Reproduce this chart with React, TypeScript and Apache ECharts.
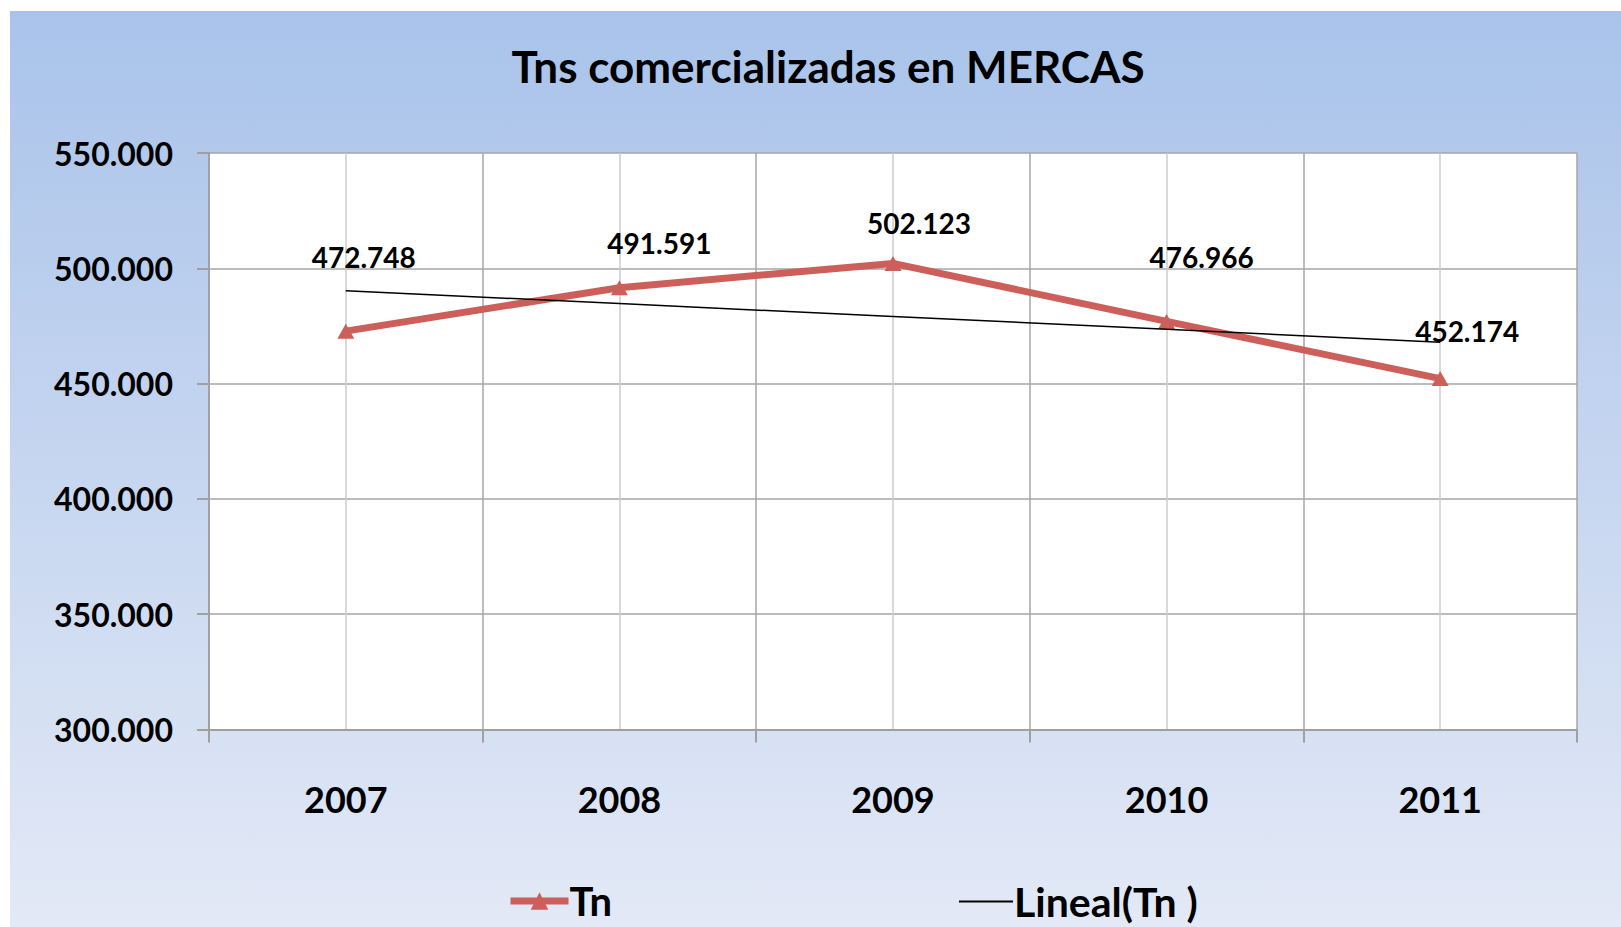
import React, { useEffect, useRef } from "react";
import * as echarts from "echarts";

const titleText = "Tns comercializadas en MERCAS";
const years = ["2007", "2008", "2009", "2010", "2011"];
const tnValues = [472748, 491591, 502123, 476966, 452174];
const trendValues = [490275, 484698, 479120, 473543, 467966];
const labelOffsets = [
  [18, -74],
  [40, -45],
  [26, -40],
  [35, -64],
  [27, -48],
];
const yMin = 300000;
const yMax = 550000;
const yStep = 50000;

const FONT = "Lato, 'Open Sans', sans-serif";

const fmt = (v: number) => {
  const s = Math.round(v).toString();
  return s.replace(/\B(?=(\d{3})+(?!\d))/g, ".");
};

export default function App() {
  const ref = useRef<HTMLDivElement>(null);
  useEffect(() => {
    if (!ref.current) return;
    const chart = echarts.init(ref.current, undefined, { renderer: "svg" });
    chart.setOption({
      animation: false,
      backgroundColor: "#ffffff",
      graphic: [
        {
          type: "rect",
          z: -10,
          silent: true,
          shape: { x: 10, y: 11, width: 1611, height: 916 },
          style: {
            fill: new echarts.graphic.LinearGradient(0, 0, 0, 1, [
              { offset: 0, color: "#a9c3ea" },
              { offset: 1, color: "#e3e9f6" },
            ]),
          },
        },
        {
          type: "text",
          x: 828,
          y: 66,
          style: {
            text: titleText,
            font: `bold 44px ${FONT}`,
            fill: "#000",
            textAlign: "center",
            textVerticalAlign: "middle",
          },
        },
      ],
      grid: {
        left: 209,
        top: 153,
        right: 44,
        bottom: 197.5,
        show: true,
        backgroundColor: "#ffffff",
        borderWidth: 0,
      },
      legend: [
        {
          data: ["Tn"],
          left: 507,
          top: 881,
          padding: 0,
          itemWidth: 58,
          itemHeight: 22,
          itemGap: 4,
          lineStyle: { width: 7 },
          textStyle: { fontFamily: FONT, fontWeight: "bold", fontSize: 40, color: "#000", padding: [0, 0, 0, -4] },
        },
        {
          data: [{ name: "Lineal(Tn )", icon: "rect" }],
          left: 959,
          top: 881,
          padding: 0,
          itemWidth: 54,
          itemHeight: 2,
          itemGap: 4,
          itemStyle: { color: "#000" },
          textStyle: { fontFamily: FONT, fontWeight: "bold", fontSize: 41, color: "#000", padding: [0, 0, 0, -4] },
        },
      ],
      xAxis: [
        {
          type: "category",
          data: years,
          boundaryGap: true,
          axisLine: { show: true, lineStyle: { color: "#a0a0a0", width: 2 } },
          axisTick: { show: true, alignWithLabel: false, length: 13, lineStyle: { color: "#a0a0a0", width: 2 } },
          splitLine: { show: true, lineStyle: { color: "#a6a6a6", width: 1.5 } },
          axisLabel: {
            margin: 51,
            fontFamily: FONT,
            fontWeight: "bold",
            fontSize: 36,
            color: "#000",
          },
        },
        {
          type: "value",
          min: 0,
          max: 5,
          interval: 1,
          position: "bottom",
          axisLine: { show: false },
          axisTick: { show: false },
          axisLabel: { show: false },
          splitLine: { show: false },
          minorTick: { show: false, splitNumber: 2 },
          minorSplitLine: { show: true, lineStyle: { color: "#cccccc", width: 1.5 } },
        },
      ],
      yAxis: {
        type: "value",
        min: yMin,
        max: yMax,
        interval: yStep,
        axisLine: { show: true, lineStyle: { color: "#a0a0a0", width: 2 } },
        axisTick: { show: true, length: 12, lineStyle: { color: "#a0a0a0", width: 2 } },
        splitLine: { show: true, lineStyle: { color: "#a6a6a6", width: 1.5 } },
        axisLabel: {
          margin: 36,
          fontFamily: FONT,
          fontWeight: "bold",
          fontSize: 32,
          color: "#000",
          formatter: (v: number) => fmt(v),
        },
      },
      series: [
        {
          name: "Tn",
          type: "line",
          xAxisIndex: 0,
          data: tnValues.map((v, i) => ({
            value: v,
            label: { offset: labelOffsets[i] },
          })),
          symbol: "triangle",
          symbolSize: [17, 15],
          showAllSymbol: true,
          itemStyle: { color: "#cd5f5a" },
          lineStyle: { color: "#cd5f5a", width: 7 },
          label: {
            show: true,
            position: "inside",
            fontFamily: FONT,
            fontWeight: "bold",
            fontSize: 28,
            color: "#000",
            formatter: (p: any) => fmt(p.value),
          },
          z: 3,
        },
        {
          name: "Lineal(Tn )",
          type: "line",
          xAxisIndex: 0,
          data: trendValues,
          symbol: "none",
          itemStyle: { color: "#000" },
          lineStyle: { color: "#000", width: 1.5 },
          z: 4,
        },
      ],
    });
    return () => chart.dispose();
  }, []);
  return (
    <div
      ref={ref}
      style={{ position: "absolute", left: 0, top: 0, width: 1621, height: 927 }}
    />
  );
}
